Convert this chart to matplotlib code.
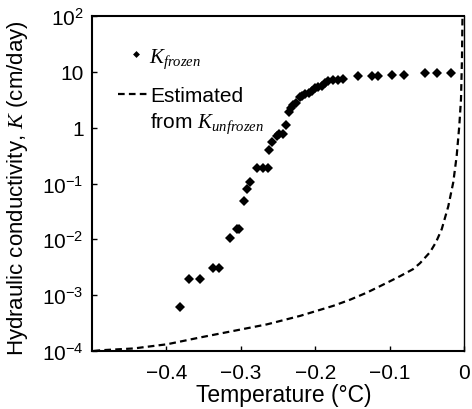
import numpy as np
import matplotlib
matplotlib.use("Agg")
import matplotlib.pyplot as plt
from matplotlib.lines import Line2D

plt.rcParams['font.family'] = ['Liberation Sans', 'DejaVu Sans']
plt.rcParams['mathtext.fontset'] = 'custom'
plt.rcParams['mathtext.default'] = 'regular'
plt.rcParams['mathtext.rm'] = 'Liberation Sans'
plt.rcParams['mathtext.it'] = 'Liberation Serif:italic'

t_frozen = [-0.382, -0.369, -0.355, -0.338, -0.329, -0.314, -0.305, -0.302,
            -0.296, -0.292, -0.287, -0.278, -0.2705, -0.263, -0.262, -0.258,
            -0.252, -0.248, -0.243, -0.239, -0.2355, -0.233, -0.2295, -0.2255,
            -0.221, -0.2175, -0.2135, -0.209, -0.2045, -0.200, -0.196, -0.191,
            -0.1865, -0.1825, -0.1758, -0.169, -0.162, -0.142, -0.124, -0.115,
            -0.097, -0.0805, -0.0523, -0.0358, -0.0175]
k_frozen = [6.1e-4, 1.94e-3, 1.94e-3, 3.1e-3, 3.1e-3, 0.0105, 0.0152, 0.0152,
            0.049, 0.079, 0.107, 0.189, 0.189, 0.189, 0.40, 0.56,
            0.71, 0.77, 0.77, 1.11, 1.88, 2.24, 2.54, 2.76,
            3.49, 3.68, 4.0, 4.26, 4.58, 5.13, 5.35, 5.57,
            6.3, 6.84, 7.13, 7.2, 7.4, 8.5, 8.5, 8.5,
            8.87, 8.87, 9.5, 9.5, 9.5]

# K estimated from unfrozen data (dashed curve)
t_est = [-0.498, -0.4886, -0.444, -0.399, -0.3544, -0.3097, -0.2648, -0.2201,
         -0.1758, -0.153, -0.1306, -0.1128, -0.0993, -0.0859, -0.0685, -0.0591,
         -0.0456, -0.0376, -0.0299, -0.0211, -0.0144, -0.0098, -0.0063, -0.004,
         -0.0027, -0.002]
k_est = [1.0e-4, 1.03e-4, 1.11e-4, 1.32e-4, 1.75e-4, 2.29e-4, 3.0e-4, 4.26e-4,
         6.43e-4, 8.3e-4, 1.11e-3, 1.45e-3, 1.78e-3, 2.19e-3, 2.92e-3, 3.74e-3,
         5.9e-3, 8.9e-3, 0.0152, 0.039, 0.105, 0.313, 1.08, 3.26,
         17.0, 100.0]

x_ticks = [-0.4, -0.3, -0.2, -0.1, 0]
x_labels = ['\u22120.4', '\u22120.3', '\u22120.2', '\u22120.1', '0']
y_ticks = [1e-4, 1e-3, 1e-2, 1e-1, 1, 10, 100]
y_labels = ['$10^{-4}$', '$10^{-3}$', '$10^{-2}$', '$10^{-1}$', '1', '10', '$10^{2}$']

fs = 15
fs_lab = 16

fig = plt.figure(figsize=(4.72, 4.10), dpi=100)
ax = fig.add_axes([0.195, 0.1415, 0.788, 0.817])

pts, = ax.plot(t_frozen, k_frozen, 'D', color='black', ms=5.0, mew=0,
               linestyle='none')
est, = ax.plot(t_est, k_est, color='black', lw=1.6, dashes=(3.0, 1.9))

ax.set_yscale('log')
ax.set_xlim(-0.5, 0)
ax.set_ylim(1e-4, 100)
ax.set_xticks(x_ticks)
ax.set_xticklabels(x_labels, fontsize=fs)
ax.set_yticks(y_ticks)
ax.set_yticklabels(y_labels, fontsize=fs)
ax.minorticks_off()
ax.tick_params(direction='in', length=3.5, width=1)
ax.tick_params(axis='x', pad=9)
ax.tick_params(axis='y', pad=6)

for side in ['left', 'bottom', 'top']:
    ax.spines[side].set_linewidth(1.5)
ax.spines['right'].set_linewidth(1.0)

ax.set_xlabel('Temperature (\u00b0C)', fontsize=16.5, labelpad=2)
ax.xaxis.set_label_coords(0.515, -0.095)
ax.set_ylabel(r'Hydraulic conductivity, $\mathit{K}$ (cm/day)', fontsize=fs_lab)
ax.yaxis.set_label_coords(-0.168, 0.49)

# legend: marker entry, then dashed entry with a second text line
leg1 = ax.legend([pts], [r'$\mathit{K}_{\mathit{frozen}}$'], loc='upper left',
                 bbox_to_anchor=(0.095, 0.91), frameon=False, fontsize=fs,
                 borderpad=0, borderaxespad=0, handlelength=0.8,
                 handletextpad=0.25, markerscale=0.7)
ax.add_artist(leg1)
blank = Line2D([], [], linestyle='none', marker=None)
ax.legend([est, blank], ['Estimated', r'from $\mathit{K}_{\mathit{unfrozen}}$'],
          loc='upper left', bbox_to_anchor=(0.07, 0.79), frameon=False,
          fontsize=fs, borderpad=0, borderaxespad=0, handlelength=1.5,
          handletextpad=0.05, labelspacing=0.22)

fig.savefig('out.png', dpi=100)
